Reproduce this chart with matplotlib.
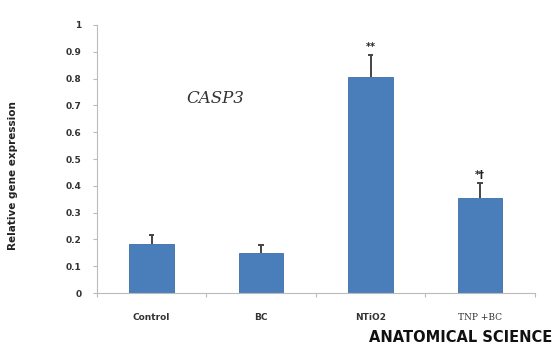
import matplotlib.pyplot as plt

groups = ['Control', 'BC', 'NTiO2', 'TNP +BC']
values = [0.183, 0.149, 0.806, 0.354]
errors = [0.033, 0.030, 0.082, 0.056]
marks = ['', '', '**', '*\u2020']
yticks = [0, 0.1, 0.2, 0.3, 0.4, 0.5, 0.6, 0.7, 0.8, 0.9, 1]
ytick_labels = ['0', '0.1', '0.2', '0.3', '0.4', '0.5', '0.6', '0.7', '0.8', '0.9', '1']

fig = plt.figure(figsize=(5.53, 3.51), dpi=100)
ax = fig.add_axes([0.175, 0.165, 0.792, 0.764])

x = list(range(len(groups)))
tops = [v + e for v, e in zip(values, errors)]
ax.bar(x, values, width=0.41, color='#4a7ebb', edgecolor='#3d6ea8', linewidth=0.6, zorder=2)
# upper-only error bars, Excel style
ax.vlines(x, values, tops, color='#444444', linewidth=1.4, zorder=3)
ax.hlines(tops, [xi - 0.025 for xi in x], [xi + 0.025 for xi in x],
          color='#444444', linewidth=1.4, zorder=3)

for xi, t, m in zip(x, tops, marks):
    if m:
        ax.text(xi, t + 0.012, m, ha='center', va='bottom', fontsize=7,
                fontweight='bold', color='#222222')

ax.set_xlim(-0.5, 3.5)
ax.set_ylim(0, 1)
ax.set_yticks(yticks)
ax.set_yticklabels(ytick_labels, fontsize=6.5, fontweight='bold', color='#333333')
ax.set_xticks([-0.5, 0.5, 1.5, 2.5, 3.5])
ax.set_xticklabels([])
ax.tick_params(axis='x', length=3, color='#bbbbbb', direction='out')
ax.tick_params(axis='y', length=3, color='#bbbbbb', direction='out', pad=8)

for xi, g in zip(x, groups):
    if g == 'TNP +BC':
        ax.text(xi, -0.09, g, ha='center', va='center', fontsize=6.5,
                family='DejaVu Serif', color='#333333', clip_on=False)
    else:
        ax.text(xi, -0.09, g, ha='center', va='center', fontsize=6.5,
                fontweight='bold', color='#333333', clip_on=False)

for side in ['top', 'right']:
    ax.spines[side].set_visible(False)
ax.spines['left'].set_color('#bbbbbb')
ax.spines['bottom'].set_color('#bbbbbb')

ax.set_ylabel('Relative gene expression', fontsize=7.5, fontweight='bold', color='#222222')
ax.yaxis.set_label_coords(-0.18, 0.44)

ax.text(0.58, 0.725, 'CASP3', fontsize=12, style='italic', family='DejaVu Serif',
        color='#333333', ha='center', va='center')

fig.text(0.668, 0.025, 'ANATOMICAL SCIENCE', fontsize=10.5, fontweight='bold', color='#111111')

fig.savefig('out.png', dpi=100)
